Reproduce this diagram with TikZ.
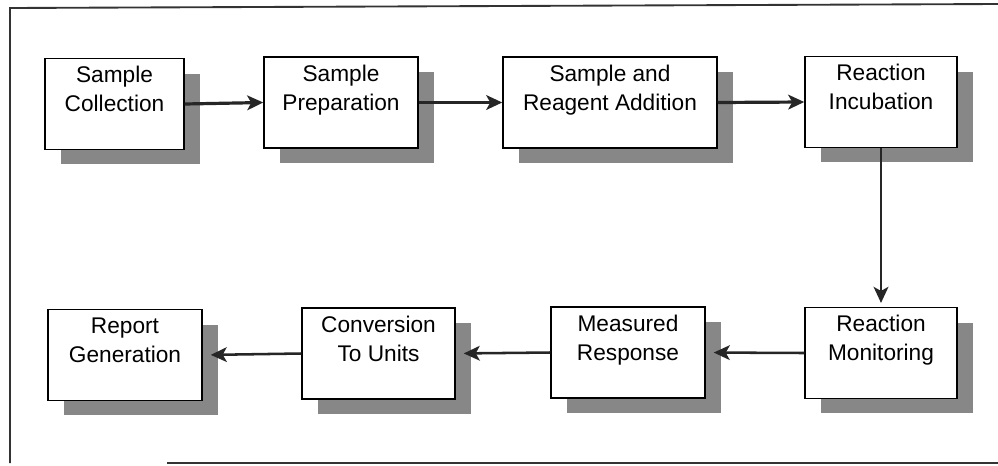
\documentclass[tikz,border=0pt]{standalone}
\usepackage{fontspec}
\setmainfont{Liberation Sans}
\usetikzlibrary{arrows.meta,shadows}

% two-line caption, lifted above the box centre
\newcommand\boxtext[1]{\raisebox{5pt}[0pt][0pt]{\begin{tabular}{@{}c@{}}#1\end{tabular}}}

\begin{document}
\begin{tikzpicture}[
    x=0.75pt, y=-0.75pt,
    proc/.style={draw=black, line width=1.1pt, fill=white,
      minimum height=68pt, inner sep=0pt,
      font=\fontsize{17}{21.75}\selectfont,
      drop shadow={shadow xshift=12pt, shadow yshift=-11.25pt,
        fill=black!47, opacity=1}},
    flow/.style={draw=black!85, line width=2.4pt,
      -{Stealth[length=12pt,width=11pt,inset=3pt]}},
    backflow/.style={flow, line width=1.9pt, shorten >=6pt},
    frameline/.style={draw=black!80, line width=1.4pt}
  ]
  \useasboundingbox[fill=white] (0,0) rectangle (998,465);

  % outer frame (open at the right)
  \coordinate (fTL) at (10,8);
  \coordinate (fTR) at (998,4);
  \coordinate (fBL) at (10,463);
  \coordinate (fBS) at (167,463);
  \coordinate (fBR) at (998,463);
  \draw[frameline] (fTR) -- (fTL) -- (fBL);
  \draw[frameline] (fBS) -- (fBR);

  % upper row
  \node[proc, minimum width=104pt]   (b1) at (114.5,104) {\boxtext{Sample\\Collection}};
  \node[proc, minimum width=115.5pt] (b2) at (341,102.5) {\boxtext{Sample\\Preparation}};
  \node[proc, minimum width=160.5pt] (b3) at (610,102.5) {\boxtext{Sample and\\Reagent Addition}};
  \node[proc, minimum width=114pt]   (b4) at (881,102)   {\boxtext{Reaction\\Incubation}};

  % lower row
  \node[proc, minimum width=114pt]   (b5) at (881,353)   {\boxtext{Reaction\\Monitoring}};
  \node[proc, minimum width=115.5pt] (b6) at (628,352.5) {\boxtext{Measured\\Response}};
  \node[proc, minimum width=114.75pt](b7) at (378.5,353.5) {\boxtext{Conversion\\To Units}};
  \node[proc, minimum width=115.5pt] (b8) at (125,355)   {\boxtext{Report\\Generation}};

  % connectors
  \draw[flow] (b1.east) -- (b2.west);
  \draw[flow] (b2.east) -- (b3.west);
  \draw[flow] (b3.east) -- (b4.west);
  \draw[flow, line width=1.9pt, shorten >=3pt] (b4.south) -- (b5.north);
  \draw[backflow] (b5.west) -- (b6.east);
  \draw[backflow] (b6.west) -- (b7.east);
  \draw[backflow] (b7.west) -- (b8.east);
\end{tikzpicture}
\end{document}
